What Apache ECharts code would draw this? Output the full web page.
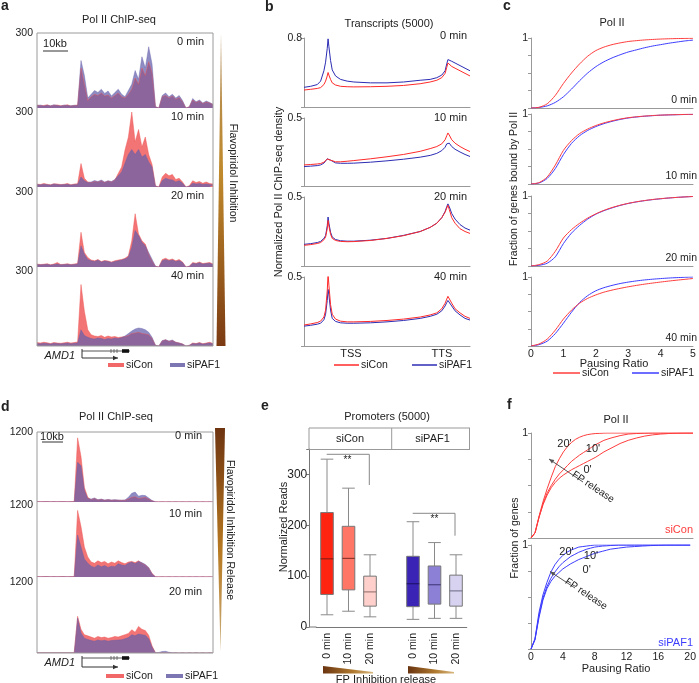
<!DOCTYPE html>
<html><head><meta charset="utf-8">
<script src="https://cdn.jsdelivr.net/npm/echarts@6/dist/echarts.min.js"></script>
<style>html,body{margin:0;padding:0;background:#fff}#c{width:699px;height:683px}</style>
</head><body><div id="c"></div>
<script>
// ---------------- DATA ----------------
// Panel a: Pol II ChIP-seq tracks (AMD1 locus), 53 bins, flavopiridol inhibition
const trkA0_siCon  = [12,9,10,13,8,11,12,9,10,13,8,10,12, 160,95,30, 45,55,50,60,48,52,40,50,60,45,40,55, 75,120,95,160,130,185,140, 5,0, 45,50,40,48,35,42,25, 0,5, 32,22,28,18,24,20,14];
const trkA0_siPAF1 = [10,12,8,11,9,13,10,8,12,10,9,11,10, 190,130,40, 55,70,62,75,58,68,48,62,75,55,45,70, 95,150,115,205,160,245,175, 5,0, 50,60,45,55,40,50,30, 0,5, 38,25,32,20,28,22,15];
const trkA10_siCon  = [12,10,14,11,9,13,12,10,11,14,9,12,13, 94,35,20, 18,22,20,25,18,24,20,28,54,80,148,200, 300,180,230,160,200,130,90, 5,0, 40,55,45,50,30,35,20, 0,5, 25,18,22,15,20,14,12];
const trkA10_siPAF1 = [10,9,11,10,8,12,10,9,10,11,8,10,11, 40,25,18, 20,26,22,28,20,25,22,30,45,60,95,130, 150,130,150,120,130,100,80, 3,0, 25,35,30,28,20,25,15, 0,3, 15,12,14,10,12,10,8];
const trkA20_siCon  = [12,10,11,13,9,12,18,10,11,13,10,12,14, 139,58,38, 28,25,30,22,26,24,20,25,28,30,35,45, 105,213,132,105,92,51,24, 3,0, 30,35,28,32,25,30,20, 0,3, 18,15,20,14,16,18,12];
const trkA20_siPAF1 = [10,9,10,11,8,10,12,9,10,11,9,10,12, 85,51,30, 25,22,28,20,24,22,18,22,25,28,32,40, 78,146,126,99,85,58,31, 3,0, 25,30,25,28,22,26,18, 0,3, 15,13,17,12,14,15,10];
const trkA40_siCon  = [14,12,15,13,10,14,12,11,13,15,12,14,16, 246,139,65, 45,40,38,42,35,40,36,38,34,36,38,42, 50,52,55,50,48,45,30, 3,0, 20,25,18,22,15,12,8, 0,3, 12,10,14,9,12,15,10];
const trkA40_siPAF1 = [10,9,11,10,8,11,10,9,10,12,9,11,12, 65,42,35, 30,28,32,30,26,30,28,32,30,34,40,50, 60,68,72,70,65,55,35, 3,0, 22,25,20,24,15,12,8, 0,3, 10,9,12,8,10,12,9];
// Panel d: tracks, flavopiridol inhibition release
const trkD0_siCon  = [8,6,7,8,5,7,6,8,7,6,7,8, 1100,780,250,80, 40,60,35,45,30,40,30,35,30,28,30,50, 80,90,60,70,80,50,20, 5,4,5,4,5,4,5,4,5,4,5,4,5,4,5,4,5,4];
const trkD0_siPAF1 = [5,4,5,6,4,5,4,5,6,4,5,5, 680,620,200,60, 50,70,40,50,35,45,35,40,35,32,35,80, 150,170,100,115,110,70,25, 3,2,3,2,3,2,3,2,3,2,3,2,3,2,3,2,3,2];
const trkD10_siCon  = [8,6,7,8,5,7,6,8,7,6,7,8, 1110,840,500,335, 250,230,270,240,260,220,250,230,270,240,220,250, 260,240,270,230,200,150,60, 5,4,5,4,5,4,5,4,5,4,5,4,5,4,5,4,5,4];
const trkD10_siPAF1 = [5,4,5,6,4,5,4,5,6,4,5,5, 700,500,300,230, 180,160,200,170,190,160,180,170,220,200,190,230, 250,220,260,240,210,160,50, 3,2,3,2,3,2,3,2,3,2,3,2,3,2,3,2,3,2];
const trkD20_siCon  = [6,5,6,5,4,6,5,6,5,4,6,5, 620,400,310,290, 270,250,280,260,270,250,260,280,270,290,310,330, 394,350,450,400,380,300,120, 3,2,3,2,3,2,3,2,3,2,3,2,3,2,3,2,3,2];
const trkD20_siPAF1 = [4,3,4,3,3,4,3,4,3,3,4,3, 590,340,250,230, 210,200,220,205,215,200,210,215,220,225,240,260, 310,290,320,310,300,240,100, 5,10,25,28,12,5,3,2,3,2,3,2,3,2,3,2,3,2];

// Panel b: metagene profiles (position along scaled transcript, %)
const profileX = [0,4,8,10,12,13,14,14.5,15,16,17,19,22,26,30,40,50,60,70,76,80,83,85,86,86.7,87.5,89,91,94,97,100];
const prof0_siCon   = [0.197,0.205,0.215,0.225,0.26,0.3,0.36,0.4,0.37,0.32,0.28,0.255,0.24,0.235,0.233,0.235,0.24,0.25,0.27,0.29,0.31,0.34,0.39,0.46,0.51,0.5,0.47,0.45,0.42,0.39,0.36];
const prof0_siPAF1  = [0.228,0.24,0.26,0.3,0.42,0.52,0.68,0.79,0.7,0.54,0.43,0.36,0.32,0.3,0.29,0.28,0.28,0.29,0.31,0.32,0.34,0.37,0.42,0.5,0.55,0.55,0.53,0.51,0.48,0.45,0.42];
const prof10_siCon  = [0.155,0.158,0.162,0.165,0.175,0.185,0.198,0.205,0.2,0.19,0.183,0.178,0.178,0.182,0.187,0.2,0.215,0.232,0.255,0.275,0.29,0.31,0.34,0.37,0.39,0.375,0.34,0.315,0.29,0.27,0.253];
const prof10_siPAF1 = [0.143,0.146,0.15,0.155,0.168,0.18,0.2,0.212,0.205,0.19,0.178,0.17,0.167,0.167,0.168,0.175,0.185,0.197,0.212,0.225,0.24,0.26,0.285,0.31,0.323,0.315,0.29,0.27,0.25,0.232,0.217];
const prof20_siCon  = [0.15,0.155,0.163,0.17,0.19,0.21,0.27,0.33,0.29,0.23,0.2,0.185,0.178,0.176,0.177,0.185,0.2,0.22,0.25,0.28,0.31,0.35,0.39,0.42,0.44,0.41,0.35,0.31,0.27,0.25,0.236];
const prof20_siPAF1 = [0.157,0.162,0.17,0.178,0.2,0.22,0.29,0.355,0.31,0.245,0.21,0.192,0.183,0.18,0.18,0.187,0.2,0.222,0.25,0.28,0.31,0.35,0.395,0.43,0.45,0.43,0.38,0.34,0.3,0.275,0.26];
const prof40_siCon  = [0.152,0.16,0.17,0.18,0.21,0.26,0.4,0.524,0.44,0.3,0.23,0.195,0.18,0.175,0.175,0.178,0.185,0.195,0.21,0.225,0.24,0.27,0.31,0.34,0.36,0.35,0.31,0.27,0.24,0.215,0.2];
const prof40_siPAF1 = [0.144,0.15,0.158,0.165,0.19,0.23,0.33,0.41,0.37,0.26,0.2,0.178,0.168,0.165,0.165,0.168,0.175,0.185,0.2,0.215,0.23,0.255,0.29,0.315,0.33,0.32,0.29,0.255,0.225,0.2,0.188];

// Panel c: cumulative fraction vs pausing ratio
const cdfX = [0,0.25,0.5,0.75,1,1.25,1.5,1.75,2,2.25,2.5,2.75,3,3.25,3.5,3.75,4,4.25,4.5,4.75,5];
const cdf0_siCon   = [0,0.01,0.06,0.18,0.35,0.5,0.63,0.74,0.82,0.87,0.905,0.93,0.95,0.962,0.972,0.979,0.985,0.989,0.992,0.994,0.996];
const cdf0_siPAF1  = [0,0.008,0.03,0.08,0.16,0.27,0.39,0.5,0.59,0.66,0.715,0.76,0.8,0.83,0.86,0.885,0.905,0.925,0.942,0.958,0.97];
const cdf10_siCon  = [0,0.02,0.1,0.27,0.48,0.62,0.72,0.785,0.835,0.873,0.903,0.928,0.947,0.96,0.97,0.978,0.984,0.988,0.991,0.994,0.996];
const cdf10_siPAF1 = [0,0.015,0.08,0.22,0.42,0.58,0.69,0.765,0.82,0.862,0.895,0.922,0.943,0.957,0.968,0.976,0.983,0.987,0.99,0.993,0.995];
const cdf20_siCon  = [0,0.02,0.07,0.21,0.4,0.52,0.61,0.685,0.745,0.795,0.835,0.868,0.895,0.917,0.935,0.95,0.962,0.972,0.98,0.987,0.993];
const cdf20_siPAF1 = [0,0.01,0.04,0.13,0.32,0.47,0.58,0.67,0.74,0.79,0.83,0.865,0.893,0.915,0.933,0.948,0.96,0.971,0.98,0.987,0.993];
const cdf40_siCon  = [0,0.03,0.1,0.23,0.39,0.52,0.62,0.69,0.74,0.78,0.81,0.835,0.858,0.878,0.896,0.912,0.927,0.941,0.954,0.966,0.978];
const cdf40_siPAF1 = [0,0.02,0.07,0.18,0.33,0.49,0.63,0.73,0.8,0.845,0.878,0.905,0.926,0.943,0.957,0.968,0.977,0.985,0.991,0.996,1.0];

// Panel e: promoter reads boxplots
const boxCats = ['0 min','10 min','20 min','','0 min','10 min','20 min'];
const boxLow  = [24,31,20,null,15,17,17];
const boxQ1   = [64,73,41,null,40,45,41];
const boxMed  = [134,135,69,null,85,83,71];
const boxQ3   = [225,198,100,null,139,120,102];
const boxHigh = [330,273,142,null,207,166,142];

// Panel f: CDF after FP release
const relX = [0,0.5,1,1.5,2,2.5,3,3.5,4,4.5,5,5.5,6,6.5,7,7.5,8,8.5,9,9.5,10,11,12,13,14,15,16,17,18,19,20];
const rel_siCon_20  = [0,0.05,0.21,0.35,0.47,0.58,0.68,0.755,0.82,0.87,0.91,0.94,0.96,0.975,0.985,0.991,0.995,0.997,0.999,1,1,1,1,1,1,1,1,1,1,1,1];
const rel_siCon_10  = [0,0.05,0.2,0.33,0.43,0.5,0.56,0.61,0.65,0.69,0.73,0.76,0.79,0.815,0.84,0.865,0.89,0.91,0.93,0.943,0.955,0.975,0.99,0.995,0.998,1,1,1,1,1,1];
const rel_siCon_0   = [0,0.05,0.2,0.32,0.41,0.48,0.53,0.57,0.6,0.625,0.65,0.67,0.69,0.71,0.73,0.75,0.77,0.795,0.82,0.84,0.86,0.9,0.93,0.952,0.97,0.982,0.99,0.995,0.998,1,1];
const rel_siPAF1_20 = [0,0.1,0.35,0.52,0.64,0.74,0.81,0.86,0.9,0.93,0.95,0.965,0.98,0.985,0.99,0.995,1,1,1,1,1,1,1,1,1,1,1,1,1,1,1];
const rel_siPAF1_10 = [0,0.09,0.32,0.49,0.6,0.68,0.74,0.79,0.83,0.86,0.89,0.91,0.93,0.945,0.96,0.97,0.98,0.985,0.99,0.992,0.995,1,1,1,1,1,1,1,1,1,1];
const rel_siPAF1_0  = [0,0.09,0.3,0.47,0.58,0.65,0.7,0.735,0.77,0.795,0.82,0.84,0.86,0.875,0.89,0.905,0.92,0.93,0.94,0.95,0.96,0.97,0.98,0.985,0.99,0.994,0.997,1,1,1,1];

// ---------------- STYLE / BUILD ----------------
const FONT = '"Liberation Sans", Arial, Helvetica, sans-serif';
const boxFill = ['#ff2412','#ff7566','#ffd0cb',null,'#3a24b6','#8c80d6','#d6d2f0'];
const boxMedColor = ['#7a1810','#7a2a22','#8a6a66',null,'#1a1060','#3a3272','#6a6a82'];
const trackBins = trkA0_siCon.map((_, i) => String(i));

const grids = [], xAxes = [], yAxes = [], series = [], graphics = [];
function panel(grid, xa, ya) {
  grids.push(grid); const gi = grids.length - 1;
  xa.gridIndex = gi; ya.gridIndex = gi; xAxes.push(xa); yAxes.push(ya); return gi;
}
function maxOnlyLabel(max, size, margin) {
  return { formatter: v => (Math.abs(v - max) < 1e-9 ? String(max) : ''), fontSize: size || 10.5, color: '#222', fontFamily: FONT, margin: margin == null ? 3 : margin };
}
function trackRow(top, height, ymax, red, blue) {
  const gi = panel({ left: 37, top, width: 176, height },
    { type: 'category', data: trackBins, boundaryGap: false, show: false },
    { type: 'value', min: 0, max: ymax, interval: ymax, axisLine: { show: false }, axisTick: { show: false }, splitLine: { show: false }, axisLabel: maxOnlyLabel(ymax, 10.5, 4) });
  series.push({ type: 'line', xAxisIndex: gi, yAxisIndex: gi, data: red, showSymbol: false, silent: true,
    lineStyle: { width: 0.5, color: 'rgba(240,85,85,0.9)' }, areaStyle: { color: 'rgba(241,92,92,0.85)', opacity: 1 } });
  series.push({ type: 'line', xAxisIndex: gi, yAxisIndex: gi, data: blue, showSymbol: false, silent: true,
    lineStyle: { width: 0.5, color: 'rgba(100,95,172,0.8)' }, areaStyle: { color: 'rgba(100,95,172,0.72)', opacity: 1 } });
}
function curveRow(grid, xmax, xInterval, showX, ymax, xs, lines, ylabelMargin) {
  const gi = panel(grid,
    { type: 'value', min: 0, max: xmax, interval: xInterval, axisLine: { show: true, onZero: false, lineStyle: { color: '#999' } }, axisTick: { show: false }, splitLine: { show: false },
      axisLabel: { show: showX, fontSize: 10.5, color: '#222', fontFamily: FONT, margin: 3 } },
    { type: 'value', min: 0, max: ymax, interval: ymax === 1 ? 0.25 : ymax, axisLine: { show: true, lineStyle: { color: '#999' } },
      axisTick: { show: true, length: 3, lineStyle: { color: '#999' } }, splitLine: { show: false }, axisLabel: maxOnlyLabel(ymax, 10.5, ylabelMargin) });
  lines.forEach(l => series.push({ type: 'line', xAxisIndex: gi, yAxisIndex: gi, data: xs.map((x, i) => [x, l.data[i]]), showSymbol: false, silent: true,
    smooth: l.smooth || false, lineStyle: { width: 1, color: l.color } }));
}
function T(text, x, y, o) {
  o = o || {};
  graphics.push({ type: 'text', x, y, rotation: o.rot || 0, z: 100, silent: true,
    style: { text, font: (o.italic ? 'italic ' : '') + (o.bold ? 'bold ' : '') + (o.size || 10.5) + 'px ' + FONT,
      fill: o.color || '#222', align: o.align || 'center', verticalAlign: o.va || 'middle' } });
}
function L(x1, y1, x2, y2, color, w) { graphics.push({ type: 'line', z: 100, silent: true, shape: { x1, y1, x2, y2 }, style: { stroke: color || '#444', lineWidth: w || 1 } }); }
function R(x, y, w, h, fill, stroke) { graphics.push({ type: 'rect', z: 100, silent: true, shape: { x, y, width: w, height: h }, style: { fill: fill || 'none', stroke: stroke || null, lineWidth: 1 } }); }
function P(points, fill) { graphics.push({ type: 'polygon', z: 100, silent: true, shape: { points }, style: { fill } }); }
function arrow(x1, y1, x2, y2, color) {
  L(x1, y1, x2, y2, color, 1);
  const a = Math.atan2(y2 - y1, x2 - x1), s = 5, h = 2.2;
  P([[x2, y2], [x2 - s * Math.cos(a) + h * Math.sin(a), y2 - s * Math.sin(a) - h * Math.cos(a)], [x2 - s * Math.cos(a) - h * Math.sin(a), y2 - s * Math.sin(a) + h * Math.cos(a)]], color);
}
function geneModel(yLine, yArrow) {
  T('AMD1', 75, yLine + 5, { italic: true, align: 'right', size: 11 });
  L(82, yLine, 130, yLine, '#555', 1);
  L(82, yLine - 2, 82, yArrow, '#333', 1);
  arrow(82, yArrow, 118, yArrow, '#333');
  [111, 114, 117].forEach(x => L(x, yLine - 2, x, yLine + 2, '#555', 0.8));
  R(122, yLine - 1.8, 7, 3.6, '#111');
}

// Panel a
trackRow(33, 75, 300, trkA0_siCon, trkA0_siPAF1);
trackRow(112, 75, 300, trkA10_siCon, trkA10_siPAF1);
trackRow(192, 75, 300, trkA20_siCon, trkA20_siPAF1);
trackRow(271, 75, 300, trkA40_siCon, trkA40_siPAF1);
// Panel d
trackRow(432, 70, 1200, trkD0_siCon, trkD0_siPAF1);
trackRow(505, 72, 1200, trkD10_siCon, trkD10_siPAF1);
trackRow(582, 71, 1200, trkD20_siCon, trkD20_siPAF1);

// Panel b
const RB = '#ff2a2a', BB = '#2c2cb4';
[[38, 69, 0.8, prof0_siCon, prof0_siPAF1], [118, 68, 0.5, prof10_siCon, prof10_siPAF1], [197, 69, 0.5, prof20_siCon, prof20_siPAF1], [277, 69, 0.5, prof40_siCon, prof40_siPAF1]]
  .forEach(r => curveRow({ left: 304, top: r[0], width: 166, height: r[1] }, 100, 50, false, r[2], profileX,
    [{ data: r[4], color: BB }, { data: r[3], color: RB }], 2));

// Panel c
const RC = '#ff3c3c', BC = '#3c3cff';
[[38, 70, cdf0_siCon, cdf0_siPAF1, false], [114, 70, cdf10_siCon, cdf10_siPAF1, false], [196, 70, cdf20_siCon, cdf20_siPAF1, false], [277, 69, cdf40_siCon, cdf40_siPAF1, true]]
  .forEach(r => curveRow({ left: 531, top: r[0], width: 162, height: r[1] }, 5, 1, r[4], 1, cdfX,
    [{ data: r[3], color: BC, smooth: 0.25 }, { data: r[2], color: RC, smooth: 0.25 }], 3));

// Panel f
curveRow({ left: 531, top: 433, width: 162, height: 105 }, 20, 4, false, 1, relX,
  [{ data: rel_siCon_0, color: RC }, { data: rel_siCon_10, color: RC }, { data: rel_siCon_20, color: RC }], 3);
curveRow({ left: 531, top: 545, width: 162, height: 104 }, 20, 4, true, 1, relX,
  [{ data: rel_siPAF1_0, color: BC }, { data: rel_siPAF1_10, color: BC }, { data: rel_siPAF1_20, color: BC }], 3);

// Panel e
const ge = panel({ left: 316.25, top: 449, width: 150.5, height: 178 },
  { type: 'category', data: boxCats, axisLine: { show: true, lineStyle: { color: '#777' } }, axisTick: { show: false },
    axisLabel: { rotate: 90, fontSize: 10.5, color: '#222', fontFamily: FONT, margin: 6, interval: 0 } },
  { type: 'value', min: 0, max: 350, interval: 100, offset: 7, axisLine: { show: true, lineStyle: { color: '#777' } },
    axisTick: { show: true, length: 3, lineStyle: { color: '#777' } }, splitLine: { show: false },
    axisLabel: { formatter: v => (v <= 300 ? String(v) : ''), fontSize: 12, color: '#222', fontFamily: FONT, margin: 2 } });
series.push({
  type: 'custom', xAxisIndex: ge, yAxisIndex: ge, silent: true,
  data: boxCats.map((c, i) => [i, boxLow[i], boxQ1[i], boxMed[i], boxQ3[i], boxHigh[i]]).filter(d => d[3] != null),
  encode: { x: 0, y: [1, 2, 3, 4, 5] },
  renderItem: function (params, api) {
    const i = api.value(0);
    const x = api.coord([i, 0])[0];
    const yL = api.coord([i, api.value(1)])[1], yQ1 = api.coord([i, api.value(2)])[1], yM = api.coord([i, api.value(3)])[1],
      yQ3 = api.coord([i, api.value(4)])[1], yH = api.coord([i, api.value(5)])[1];
    const w = 12.6, ws = { stroke: '#8a8a8a', lineWidth: 1 };
    return { type: 'group', children: [
      { type: 'line', shape: { x1: x, y1: yH, x2: x, y2: yQ3 }, style: ws },
      { type: 'line', shape: { x1: x, y1: yQ1, x2: x, y2: yL }, style: ws },
      { type: 'line', shape: { x1: x - w / 2, y1: yH, x2: x + w / 2, y2: yH }, style: ws },
      { type: 'line', shape: { x1: x - w / 2, y1: yL, x2: x + w / 2, y2: yL }, style: ws },
      { type: 'rect', shape: { x: x - w / 2, y: yQ3, width: w, height: yQ1 - yQ3 }, style: { fill: boxFill[i], stroke: '#777', lineWidth: 1 } },
      { type: 'line', shape: { x1: x - w / 2, y1: yM, x2: x + w / 2, y2: yM }, style: { stroke: boxMedColor[i], lineWidth: 1 } }
    ] };
  }
});

// ---------------- GRAPHICS (text, annotations) ----------------
T('a', 1, 13, { bold: true, size: 14, align: 'left', va: 'bottom' });
T('b', 265, 14, { bold: true, size: 14, align: 'left', va: 'bottom' });
T('c', 503, 13, { bold: true, size: 14, align: 'left', va: 'bottom' });
T('d', 1, 414, { bold: true, size: 14, align: 'left', va: 'bottom' });
T('e', 261, 413, { bold: true, size: 14, align: 'left', va: 'bottom' });
T('f', 507, 412, { bold: true, size: 14, align: 'left', va: 'bottom' });
T('Pol II ChIP-seq', 119, 20, { size: 11 });
T('Transcripts (5000)', 389, 24, { size: 11 });
T('Pol II', 612, 23, { size: 11 });
T('Pol II ChIP-seq', 116, 417, { size: 11 });
T('Promoters (5000)', 387, 417, { size: 11 });
T('Pol II', 616, 420, { size: 11 });

// panel a decorations
R(37, 33, 176, 313, null, '#9a9a9a');
T('10kb', 55, 44, { size: 11 }); L(43, 51, 68, 51, '#333', 1);
[['0 min', 42], ['10 min', 117], ['20 min', 196], ['40 min', 276]].forEach(t => T(t[0], 204, t[1], { align: 'right', size: 11 }));
graphics.push({ type: 'polygon', z: 100, silent: true, shape: { points: [[221, 33], [225.5, 346], [216.5, 346]] },
  style: { fill: new echarts.graphic.LinearGradient(0, 0, 0, 1, [{ offset: 0, color: '#b39060' }, { offset: 0.45, color: '#c08a2c' }, { offset: 1, color: '#7b3a12' }]) } });
T('Flavopiridol Inhibition', 233, 173, { rot: -Math.PI / 2 });
geneModel(351, 358);
R(108, 363, 16, 4, '#f26868'); T('siCon', 126, 365.5, { align: 'left' });
R(170, 363, 15, 4, '#7c76b2'); T('siPAF1', 187, 365.5, { align: 'left' });

// panel d decorations
R(37, 432, 176, 221, null, '#9a9a9a');
T('10kb', 52, 436.5, { size: 11 }); L(42, 442, 63, 442, '#333', 1);
[['0 min', 436], ['10 min', 514], ['20 min', 592]].forEach(t => T(t[0], 202, t[1], { align: 'right', size: 11 }));
graphics.push({ type: 'polygon', z: 100, silent: true, shape: { points: [[215, 428], [225, 428], [220.5, 652]] },
  style: { fill: new echarts.graphic.LinearGradient(0, 0, 0, 1, [{ offset: 0, color: '#6e3410' }, { offset: 0.55, color: '#b87a22' }, { offset: 1, color: '#cbb080' }]) } });
T('Flavopiridol Inhibition Release', 230, 530, { rot: -Math.PI / 2 });
geneModel(658, 667);
R(106, 674, 18, 4, '#f26868'); T('siCon', 126, 676.5, { align: 'left' });
R(166, 674, 17, 4, '#7c76b2'); T('siPAF1', 185, 676.5, { align: 'left' });

// panel b decorations
T('Normalized Pol II ChIP-seq density', 279, 192, { rot: Math.PI / 2, size: 11 });
[['0 min', 36], ['10 min', 117.5], ['20 min', 196.5], ['40 min', 277]].forEach(t => T(t[0], 467, t[1], { align: 'right', size: 11 }));
T('TSS', 351, 353.5, { size: 11 }); T('TTS', 442, 353.5, { size: 11 });
L(334, 365, 359, 365, RB, 1.5); T('siCon', 361, 365.5, { align: 'left' });
L(412, 365, 437, 365, BB, 1.5); T('siPAF1', 439, 365.5, { align: 'left' });

// panel c decorations
T('Fraction of genes bound by Pol II', 514, 189, { rot: Math.PI / 2 });
[['0 min', 100], ['10 min', 176.5], ['20 min', 258.5], ['40 min', 338.5]].forEach(t => T(t[0], 697, t[1], { align: 'right' }));
T('Pausing Ratio', 614, 363.5, { size: 11 });
L(553, 373, 580, 373, RC, 1.5); T('siCon', 582, 373.5, { align: 'left' });
L(632, 373, 659, 373, BC, 1.5); T('siPAF1', 661, 373.5, { align: 'left' });

// panel e decorations
L(309, 428, 470, 428, '#999'); L(309, 449.5, 470, 449.5, '#999'); L(309, 428, 309, 449.5, '#999');
L(391.7, 428, 391.7, 449.5, '#999'); L(469.5, 428, 469.5, 449.5, '#999');
T('siCon', 350, 438.5, { size: 11 }); T('siPAF1', 432.5, 438.5, { size: 11 });
L(309, 627, 316.5, 627, '#777');
T('Normalized Reads', 284, 527, { rot: Math.PI / 2, size: 11 });
L(326.7, 454.3, 369.3, 454.3, '#888'); L(369.3, 454.3, 369.3, 485, '#888'); T('**', 347.5, 455, { size: 10, va: 'top' });
L(412.7, 513.3, 455, 513.3, '#888'); L(455, 513.3, 455, 535.7, '#888'); T('**', 434.5, 514, { size: 10, va: 'top' });
graphics.push({ type: 'polygon', z: 100, silent: true, shape: { points: [[323, 666], [373, 672], [373, 673.5], [323, 673.5]] },
  style: { fill: new echarts.graphic.LinearGradient(0, 0, 1, 0, [{ offset: 0, color: '#6a3410' }, { offset: 0.6, color: '#b07a30' }, { offset: 1, color: '#d8b880' }]) } });
graphics.push({ type: 'polygon', z: 100, silent: true, shape: { points: [[408, 666], [454, 672], [454, 673.5], [408, 673.5]] },
  style: { fill: new echarts.graphic.LinearGradient(0, 0, 1, 0, [{ offset: 0, color: '#6a3410' }, { offset: 0.6, color: '#b07a30' }, { offset: 1, color: '#d8b880' }]) } });
T('FP Inhibition release', 386, 679.5, { size: 11 });

// panel f decorations
T('Fraction of genes', 515, 538, { rot: Math.PI / 2 });
T("20'", 564.5, 443.5, { size: 11 }); T("10'", 593, 449, { size: 11 }); T("0'", 587.5, 469.5, { size: 11 });
T("20'", 566.5, 552, { size: 11 }); T("10'", 591, 555.5, { size: 11 }); T("0'", 586.7, 570, { size: 11 });
arrow(583, 482, 549, 459, '#555');
T('FP release', 593, 487, { rot: -0.59, size: 10 });
arrow(575, 588, 550, 571.5, '#555');
T('FP release', 586, 594, { rot: -0.59, size: 10 });
T('siCon', 693, 530, { align: 'right', color: '#ff3c3c', size: 11 });
T('siPAF1', 693, 643, { align: 'right', color: '#3c3cff', size: 11 });
T('Pausing Ratio', 616, 668.5, { size: 11 });

const chart = echarts.init(document.getElementById('c'), null, { renderer: 'canvas' });
chart.setOption({
  animation: false,
  backgroundColor: '#fff',
  textStyle: { fontFamily: FONT },
  grid: grids, xAxis: xAxes, yAxis: yAxes, series: series,
  graphic: { elements: graphics }
});
</script>
</body></html>
